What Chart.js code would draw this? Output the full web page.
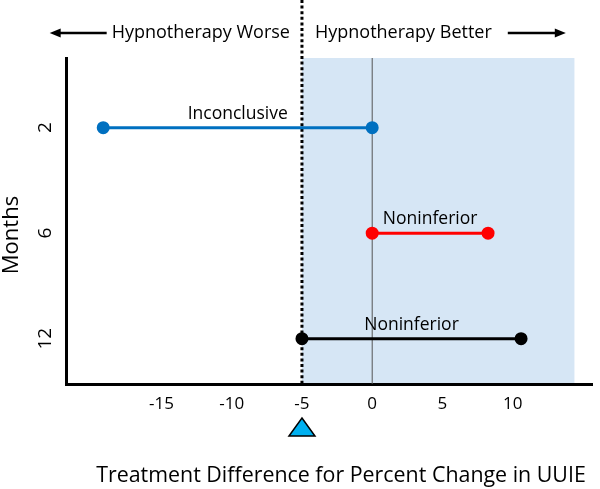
<!DOCTYPE html>
<html>
<head>
<meta charset="utf-8">
<script src="https://cdn.jsdelivr.net/npm/chart.js@4.4.1/dist/chart.umd.min.js"></script>
<style>
  html, body { margin: 0; padding: 0; background: #fff; }
  #wrap { width: 600px; height: 489px; }
</style>
</head>
<body>
<div id="wrap"><canvas id="grafica" width="600" height="489"></canvas></div>
<script>
// Datos
const meses = ['2', '6', '12'];
const limiteInferior = [-19.15, 0, -5];
const limiteSuperior = [0, 8.25, 10.6];
const veredictos = ['Inconclusive', 'Noninferior', 'Noninferior'];
const ticksX = [-15, -10, -5, 0, 5, 10];
const margenNoInferioridad = -5;
const finZonaMejor = 14.4;
const tituloX = 'Treatment Difference for Percent Change in UUIE';

const colores = ['#0070C0', '#FF0000', '#000000'];
const fuente = '"Open Sans", "Noto Sans", sans-serif';

// Un dataset por fila (intervalo de confianza)
const datasets = meses.map((mes, i) => ({
    label: mes,
    data: [{ x: limiteInferior[i], y: i + 1 }, { x: limiteSuperior[i], y: i + 1 }],
    showLine: true,
    borderColor: colores[i],
    backgroundColor: colores[i],
    borderWidth: 3,
    pointRadius: 5,
    pointHoverRadius: 5
}));

// Plugin para la zona sombreada, líneas de referencia y textos
const decoraciones = {
    id: 'decoraciones',
    beforeDatasetsDraw(chart) {
        const { ctx, chartArea, scales } = chart;
        const x = scales.x;
        const xm = x.getPixelForValue(margenNoInferioridad);
        const xf = x.getPixelForValue(finZonaMejor);
        const x0 = x.getPixelForValue(0);
        ctx.save();
        ctx.fillStyle = '#d6e6f5';
        ctx.fillRect(xm, chartArea.top, xf - xm, chartArea.bottom - chartArea.top - 1);
        // línea en cero
        ctx.strokeStyle = '#555';
        ctx.lineWidth = 1;
        ctx.beginPath();
        ctx.moveTo(x0, chartArea.top);
        ctx.lineTo(x0, chartArea.bottom);
        ctx.stroke();
        // línea punteada del margen
        ctx.strokeStyle = '#000';
        ctx.lineWidth = 3;
        ctx.setLineDash([3, 2.6]);
        ctx.beginPath();
        ctx.moveTo(xm, 0);
        ctx.lineTo(xm, chartArea.bottom);
        ctx.stroke();
        ctx.restore();
    },
    afterDraw(chart) {
        const { ctx, chartArea, scales } = chart;
        const x = scales.x, y = scales.y;
        const xm = x.getPixelForValue(margenNoInferioridad);
        ctx.save();
        ctx.fillStyle = '#000';
        ctx.textBaseline = 'middle';

        // textos superiores con flechas
        ctx.font = '18px ' + fuente;
        const yTop = 33;
        ctx.textAlign = 'right';
        const tIzq = 'Hypnotherapy Worse';
        ctx.fillText(tIzq, xm - 12, yTop);
        const inicioIzq = xm - 12 - ctx.measureText(tIzq).width;
        ctx.textAlign = 'left';
        const tDer = 'Hypnotherapy Better';
        ctx.fillText(tDer, xm + 13, yTop);
        const finDer = xm + 13 + ctx.measureText(tDer).width;

        const flecha = (desde, hasta) => {
            const dir = Math.sign(hasta - desde);
            ctx.strokeStyle = '#000';
            ctx.lineWidth = 2.5;
            ctx.beginPath();
            ctx.moveTo(desde, yTop);
            ctx.lineTo(hasta - dir * 8, yTop);
            ctx.stroke();
            ctx.beginPath();
            ctx.moveTo(hasta, yTop);
            ctx.lineTo(hasta - dir * 11, yTop - 4.5);
            ctx.lineTo(hasta - dir * 11, yTop + 4.5);
            ctx.closePath();
            ctx.fill();
        };
        flecha(inicioIzq - 5, inicioIzq - 62);
        flecha(finDer + 16, finDer + 74);

        // etiquetas de cada intervalo
        ctx.font = '17.5px ' + fuente;
        ctx.textAlign = 'center';
        veredictos.forEach((v, i) => {
            const xc = (x.getPixelForValue(limiteInferior[i]) + x.getPixelForValue(limiteSuperior[i])) / 2;
            ctx.fillText(v, xc, y.getPixelForValue(i + 1) - 14);
        });

        // etiquetas del eje Y (rotadas)
        ctx.font = '19px ' + fuente;
        meses.forEach((m, i) => {
            ctx.save();
            ctx.translate(46, y.getPixelForValue(i + 1));
            ctx.rotate(-Math.PI / 2);
            ctx.fillText(m, 0, 0);
            ctx.restore();
        });
        ctx.font = '22px ' + fuente;
        ctx.save();
        ctx.translate(12, (chartArea.top + chartArea.bottom) / 2 + 14);
        ctx.rotate(-Math.PI / 2);
        ctx.fillText('Months', 0, 0);
        ctx.restore();

        // título del eje X
        ctx.font = '21.4px ' + fuente;
        ctx.fillText(tituloX, (chartArea.left + chart.width) / 2 + 8, 476);

        // triángulo del margen
        ctx.beginPath();
        ctx.moveTo(xm, 418);
        ctx.lineTo(xm + 13, 436);
        ctx.lineTo(xm - 13, 436);
        ctx.closePath();
        ctx.fillStyle = '#00B0F0';
        ctx.fill();
        ctx.strokeStyle = '#000';
        ctx.lineWidth = 1.5;
        ctx.stroke();
        ctx.restore();
    }
};

new Chart(document.getElementById('grafica'), {
    type: 'scatter',
    data: { datasets },
    options: {
        responsive: false,
        animation: false,
        devicePixelRatio: 1,
        layout: { padding: { top: 58, right: 0, bottom: 0, left: 0 } },
        plugins: {
            legend: { display: false },
            tooltip: { enabled: false }
        },
        scales: {
            x: {
                type: 'linear',
                min: -21.8,
                max: 15.65,
                afterBuildTicks: (scale) => {
                    scale.ticks = ticksX.map(v => ({ value: v }));
                },
                afterFit: (scale) => { scale.height = 105; },
                grid: { display: false, drawTicks: false },
                border: { color: '#000', width: 3 },
                ticks: {
                    color: '#000',
                    font: { family: fuente, size: 17 },
                    padding: 10,
                    maxRotation: 0
                },
                title: { display: false }
            },
            y: {
                type: 'linear',
                reverse: true,
                min: 0.34,
                max: 3.43,
                afterFit: (scale) => { scale.width = 66; },
                grid: { display: false, drawTicks: false },
                border: { color: '#000', width: 3 },
                ticks: { display: false }
            }
        }
    },
    plugins: [decoraciones]
});
</script>
</body>
</html>
